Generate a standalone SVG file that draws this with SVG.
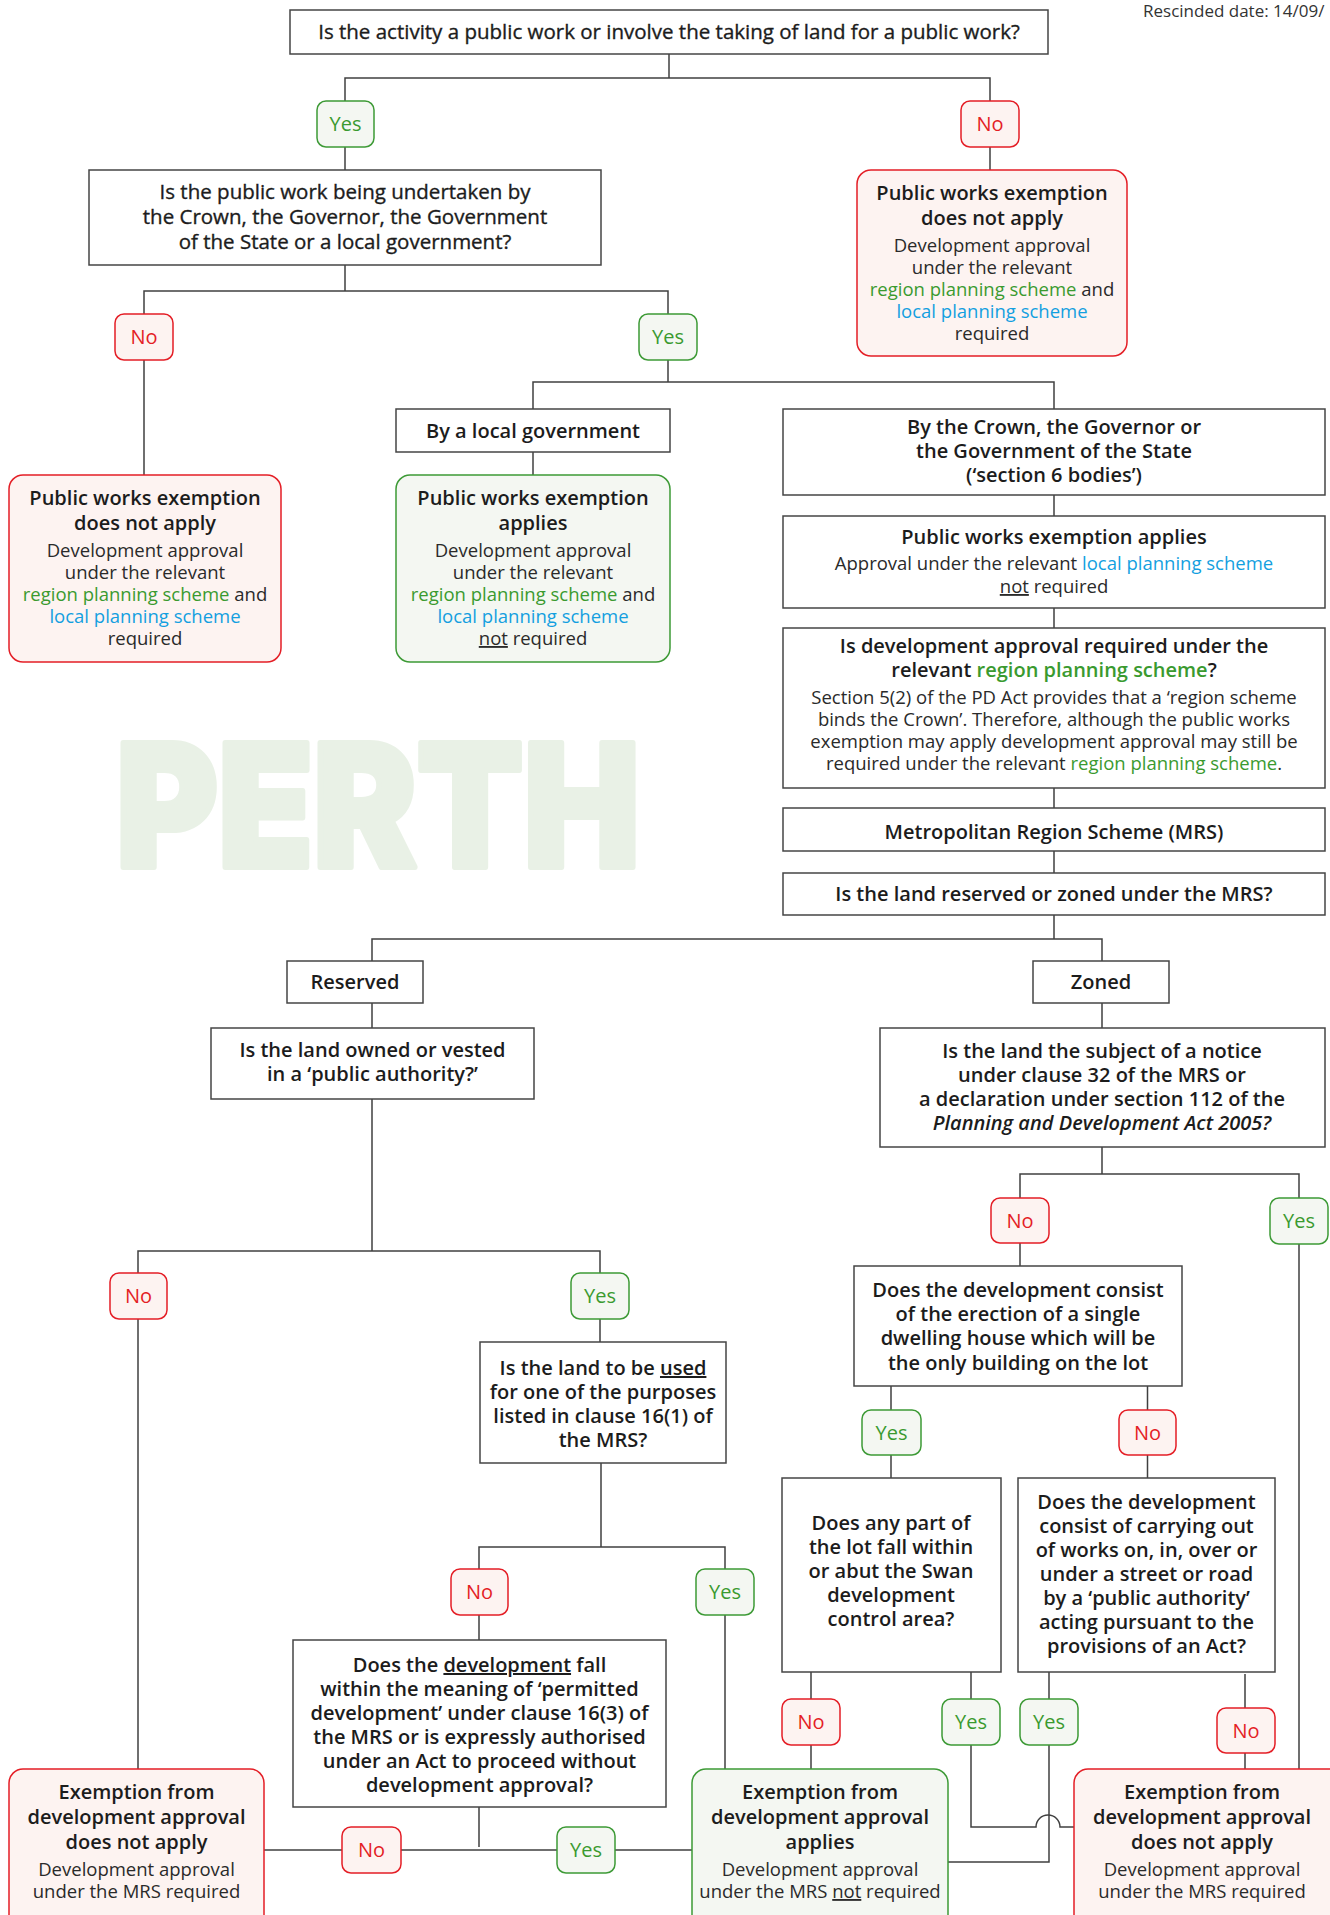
<svg xmlns="http://www.w3.org/2000/svg" width="1330" height="1915" viewBox="0 0 1330 1915">
<style>
text{font-family:"Open Sans","Noto Sans","Liberation Sans",sans-serif;text-anchor:middle;fill:#1c1c1c}
.box{fill:#fff;stroke:#454545;stroke-width:1.5}
.red{fill:#fdf3f1;stroke:#e41e26;stroke-width:1.5}
.grn{fill:#f4f7f2;stroke:#3d9a36;stroke-width:1.5}
.ln{fill:none;stroke:#404040;stroke-width:1.5}
.q{font-size:20.5px;font-weight:400;stroke:#1c1c1c;stroke-width:0.35px}
.t{font-size:20px;font-weight:600}
.b{font-size:18.5px;font-weight:400;fill:#2a2a2a}
.gt{fill:#3a9a2f}
.bt{fill:#139fe0}
.u{text-decoration:underline}
.py{font-size:20px;fill:#3a9a2f}
.pn{font-size:20px;fill:#e41e26}
</style>
<g id="watermark">
<text x="378" y="867" font-size="170" font-weight="900" style="fill:#e9f1e6;stroke:#e9f1e6;stroke-width:6px;stroke-linejoin:round;font-family:Inter,Lato,'Open Sans',sans-serif" textLength="524" lengthAdjust="spacingAndGlyphs">PERTH</text>
</g>
<text x="1143" y="17" style="text-anchor:start;font-size:17px;fill:#333">Rescinded date: 14/09/</text>
<g id="connectors">
<path class="ln" d="M669,54V78M345,101V78H990V101"/>
<path class="ln" d="M345,147V170M990,147V170"/>
<path class="ln" d="M345,265V291M144,314V291H668V314"/>
<path class="ln" d="M144,360V475M668,360V382M533,409V382H1054V409"/>
<path class="ln" d="M533,452V475"/>
<path class="ln" d="M1054,495V516M1054,608V628M1054,788V808M1054,851V873"/>
<path class="ln" d="M1054,915V939M372,961V939H1102V961"/>
<path class="ln" d="M372,1003V1028M372,1099V1251M138,1273V1251H600V1273"/>
<path class="ln" d="M138,1319V1769M600,1319V1342"/>
<path class="ln" d="M601,1463V1547M479,1569V1547H725V1569"/>
<path class="ln" d="M479,1615V1640M725,1615V1769"/>
<path class="ln" d="M479,1807V1847M264,1850H692"/>
<path class="ln" d="M1102,1003V1028M1102,1147V1174M1020,1198V1174H1299V1198"/>
<path class="ln" d="M1020,1243V1266M1299,1244V1769"/>
<path class="ln" d="M891,1386V1410M1147.5,1386V1410M891,1455V1478M1147.5,1455V1478"/>
<path class="ln" d="M811,1672V1699M811,1745V1769"/>
<path class="ln" d="M971,1663V1699M971,1745V1827H1036A12,12 0 0 1 1060,1827H1074"/>
<path class="ln" d="M1049,1672V1699M1049,1745V1862H948"/>
<path class="ln" d="M1245,1674V1708M1245,1753V1769"/>
</g>
<g id="q1"><rect class="box" x="290" y="10" width="758" height="44"/>
<text class="q" x="669" y="39">Is the activity a public work or involve the taking of land for a public work?</text></g>
<g id="p-yes1"><rect class="grn" x="317" y="101" width="57" height="46" rx="9"/><text class="py" x="345.5" y="131">Yes</text></g>
<g id="p-no1"><rect class="red" x="961" y="101" width="58" height="46" rx="9"/><text class="pn" x="990" y="131">No</text></g>
<g id="q2"><rect class="box" x="89" y="170" width="512" height="95"/>
<text class="q" x="345" y="199">Is the public work being undertaken by</text>
<text class="q" x="345" y="224">the Crown, the Governor, the Government</text>
<text class="q" x="345" y="249">of the State or a local government?</text></g>
<g id="r1"><rect class="red" x="857" y="170" width="270" height="186" rx="14"/>
<text class="t" x="992" y="200">Public works exemption</text>
<text class="t" x="992" y="225">does not apply</text>
<text class="b" x="992" y="252">Development approval</text>
<text class="b" x="992" y="274">under the relevant</text>
<text class="b" x="992" y="296"><tspan class="gt">region planning scheme</tspan> and</text>
<text class="b" x="992" y="318"><tspan class="bt">local planning scheme</tspan></text>
<text class="b" x="992" y="340">required</text></g>
<g id="p-no2"><rect class="red" x="115" y="314" width="58" height="46" rx="9"/><text class="pn" x="144" y="344">No</text></g>
<g id="p-yes2"><rect class="grn" x="639" y="314" width="58" height="46" rx="9"/><text class="py" x="668" y="344">Yes</text></g>
<g id="r2"><rect class="red" x="9" y="475" width="272" height="187" rx="14"/>
<text class="t" x="145" y="505">Public works exemption</text>
<text class="t" x="145" y="530">does not apply</text>
<text class="b" x="145" y="557">Development approval</text>
<text class="b" x="145" y="579">under the relevant</text>
<text class="b" x="145" y="601"><tspan class="gt">region planning scheme</tspan> and</text>
<text class="b" x="145" y="623"><tspan class="bt">local planning scheme</tspan></text>
<text class="b" x="145" y="645">required</text></g>
<g id="local-gov"><rect class="box" x="396" y="409" width="274" height="43"/>
<text class="t" x="533" y="438">By a local government</text></g>
<g id="g1"><rect class="grn" x="396" y="475" width="274" height="187" rx="14"/>
<text class="t" x="533" y="505">Public works exemption</text>
<text class="t" x="533" y="530">applies</text>
<text class="b" x="533" y="557">Development approval</text>
<text class="b" x="533" y="579">under the relevant</text>
<text class="b" x="533" y="601"><tspan class="gt">region planning scheme</tspan> and</text>
<text class="b" x="533" y="623"><tspan class="bt">local planning scheme</tspan></text>
<text class="b" x="533" y="645"><tspan class="u">not</tspan> required</text></g>
<g id="crown"><rect class="box" x="783" y="409" width="542" height="86"/>
<text class="t" x="1054" y="434">By the Crown, the Governor or</text>
<text class="t" x="1054" y="458">the Government of the State</text>
<text class="t" x="1054" y="482">(‘section 6 bodies’)</text></g>
<g id="pw-applies"><rect class="box" x="783" y="516" width="542" height="92"/>
<text class="t" x="1054" y="544">Public works exemption applies</text>
<text class="b" x="1054" y="570">Approval under the relevant <tspan class="bt">local planning scheme</tspan></text>
<text class="b" x="1054" y="593"><tspan class="u">not</tspan> required</text></g>
<g id="q-region"><rect class="box" x="783" y="628" width="542" height="160"/>
<text class="t" x="1054" y="653">Is development approval required under the</text>
<text class="t" x="1054" y="677">relevant <tspan class="gt">region planning scheme</tspan>?</text>
<text class="b" x="1054" y="704">Section 5(2) of the PD Act provides that  a ‘region scheme</text>
<text class="b" x="1054" y="726">binds the Crown’. Therefore, although the public works</text>
<text class="b" x="1054" y="748">exemption may apply development approval may still be</text>
<text class="b" x="1054" y="770">required under the relevant <tspan class="gt">region planning scheme</tspan>.</text></g>
<g id="mrs"><rect class="box" x="783" y="808" width="542" height="43"/>
<text class="t" x="1054" y="839">Metropolitan Region Scheme (MRS)</text></g>
<g id="q-reserved-zoned"><rect class="box" x="783" y="873" width="542" height="42"/>
<text class="t" x="1054" y="901">Is the land reserved or zoned under the MRS?</text></g>
<g id="reserved"><rect class="box" x="287" y="961" width="136" height="42"/>
<text class="t" x="355" y="989">Reserved</text></g>
<g id="zoned"><rect class="box" x="1033" y="961" width="136" height="42"/>
<text class="t" x="1101" y="989">Zoned</text></g>
<g id="q-owned"><rect class="box" x="211" y="1028" width="323" height="71"/>
<text class="t" x="372.5" y="1057">Is the land owned or vested</text>
<text class="t" x="372.5" y="1081">in a ‘public authority?’</text></g>
<g id="p-no3"><rect class="red" x="110" y="1273" width="57" height="46" rx="9"/><text class="pn" x="138.5" y="1303">No</text></g>
<g id="p-yes3"><rect class="grn" x="571" y="1273" width="58" height="46" rx="9"/><text class="py" x="600" y="1303">Yes</text></g>
<g id="q-used"><rect class="box" x="480" y="1342" width="246" height="121"/>
<text class="t" x="603" y="1375">Is the land to be <tspan class="u">used</tspan></text>
<text class="t" x="603" y="1399">for one of the purposes</text>
<text class="t" x="603" y="1423">listed in clause 16(1) of</text>
<text class="t" x="603" y="1447">the MRS?</text></g>
<g id="p-no4"><rect class="red" x="451" y="1569" width="57" height="46" rx="9"/><text class="pn" x="479.5" y="1599">No</text></g>
<g id="p-yes4"><rect class="grn" x="696" y="1569" width="58" height="46" rx="9"/><text class="py" x="725" y="1599">Yes</text></g>
<g id="q-permitted"><rect class="box" x="293" y="1640" width="373" height="167"/>
<text class="t" x="479.5" y="1672">Does the <tspan class="u">development</tspan> fall</text>
<text class="t" x="479.5" y="1696">within the meaning of ‘permitted</text>
<text class="t" x="479.5" y="1720">development’ under clause 16(3) of</text>
<text class="t" x="479.5" y="1744">the MRS or is expressly authorised</text>
<text class="t" x="479.5" y="1768">under an Act to proceed without</text>
<text class="t" x="479.5" y="1792">development approval?</text></g>
<g id="p-no5"><rect class="red" x="342" y="1827" width="59" height="46" rx="9"/><text class="pn" x="371.5" y="1857">No</text></g>
<g id="p-yes5"><rect class="grn" x="557" y="1827" width="58" height="46" rx="9"/><text class="py" x="586" y="1857">Yes</text></g>
<g id="r3"><rect class="red" x="9" y="1769" width="255" height="170" rx="14"/>
<text class="t" x="136.5" y="1799">Exemption from</text>
<text class="t" x="136.5" y="1824">development approval</text>
<text class="t" x="136.5" y="1849">does not apply</text>
<text class="b" x="136.5" y="1876">Development approval</text>
<text class="b" x="136.5" y="1898">under the MRS required</text></g>
<g id="g2"><rect class="grn" x="692" y="1769" width="256" height="170" rx="14"/>
<text class="t" x="820" y="1799">Exemption from</text>
<text class="t" x="820" y="1824">development approval</text>
<text class="t" x="820" y="1849">applies</text>
<text class="b" x="820" y="1876">Development approval</text>
<text class="b" x="820" y="1898">under the MRS <tspan class="u">not</tspan> required</text></g>
<g id="q-notice"><rect class="box" x="880" y="1028" width="445" height="119"/>
<text class="t" x="1102" y="1058">Is the land the subject of a notice</text>
<text class="t" x="1102" y="1082">under clause 32 of the MRS or</text>
<text class="t" x="1102" y="1106">a declaration under section 112 of the</text>
<text class="t" x="1102" y="1130" font-style="italic">Planning and Development Act 2005?</text></g>
<g id="p-no6"><rect class="red" x="991" y="1198" width="58" height="45" rx="9"/><text class="pn" x="1020" y="1228">No</text></g>
<g id="p-yes6"><rect class="grn" x="1270" y="1198" width="58" height="46" rx="9"/><text class="py" x="1299" y="1228">Yes</text></g>
<g id="q-dwelling"><rect class="box" x="854" y="1266" width="328" height="120"/>
<text class="t" x="1018" y="1297">Does the development consist</text>
<text class="t" x="1018" y="1321">of the erection of a single</text>
<text class="t" x="1018" y="1345">dwelling house which will be</text>
<text class="t" x="1018" y="1370">the only building on the lot</text></g>
<g id="p-yes7"><rect class="grn" x="862" y="1410" width="59" height="45" rx="9"/><text class="py" x="891.5" y="1440">Yes</text></g>
<g id="p-no7"><rect class="red" x="1119" y="1410" width="57" height="45" rx="9"/><text class="pn" x="1147.5" y="1440">No</text></g>
<g id="q-swan"><rect class="box" x="782" y="1478" width="219" height="194"/>
<text class="t" x="891" y="1530">Does any part of</text>
<text class="t" x="891" y="1554">the lot fall within</text>
<text class="t" x="891" y="1578">or abut the Swan</text>
<text class="t" x="891" y="1602">development</text>
<text class="t" x="891" y="1626">control area?</text></g>
<g id="q-street"><rect class="box" x="1018" y="1478" width="257" height="194"/>
<text class="t" x="1146.5" y="1509">Does the development</text>
<text class="t" x="1146.5" y="1533">consist of carrying out</text>
<text class="t" x="1146.5" y="1557">of works on, in, over or</text>
<text class="t" x="1146.5" y="1581">under a street or road</text>
<text class="t" x="1146.5" y="1605">by a ‘public authority’</text>
<text class="t" x="1146.5" y="1629">acting pursuant to the</text>
<text class="t" x="1146.5" y="1653">provisions of an Act?</text></g>
<g id="p-no8"><rect class="red" x="782" y="1699" width="58" height="46" rx="9"/><text class="pn" x="811" y="1729">No</text></g>
<g id="p-yes8"><rect class="grn" x="942" y="1699" width="58" height="46" rx="9"/><text class="py" x="971" y="1729">Yes</text></g>
<g id="p-yes9"><rect class="grn" x="1020" y="1699" width="58" height="46" rx="9"/><text class="py" x="1049" y="1729">Yes</text></g>
<g id="p-no9"><rect class="red" x="1217" y="1708" width="58" height="45" rx="9"/><text class="pn" x="1246" y="1738">No</text></g>
<g id="r4"><rect class="red" x="1074" y="1769" width="275" height="170" rx="14"/>
<text class="t" x="1202" y="1799">Exemption from</text>
<text class="t" x="1202" y="1824">development approval</text>
<text class="t" x="1202" y="1849">does not apply</text>
<text class="b" x="1202" y="1876">Development approval</text>
<text class="b" x="1202" y="1898">under the MRS required</text></g>
</svg>
